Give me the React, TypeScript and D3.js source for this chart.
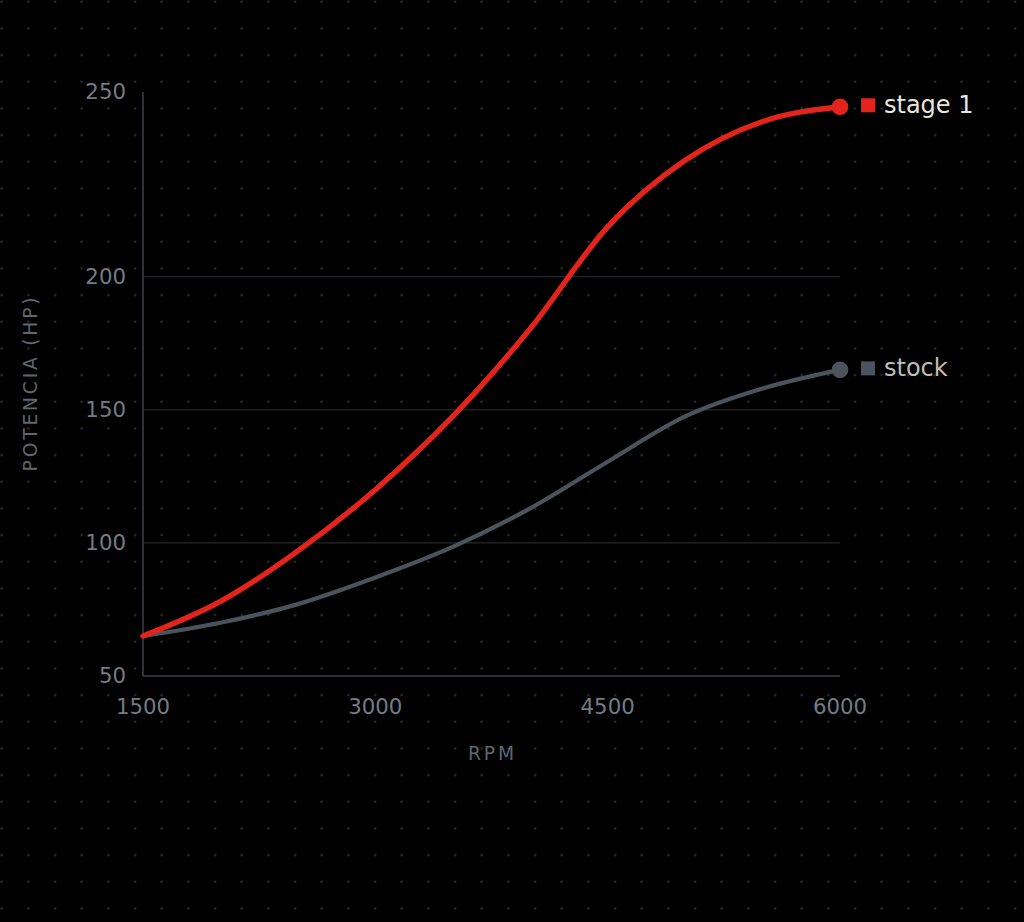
import React from 'react';
import * as d3 from 'd3';

// rpm samples every 500
const rpm = [1500, 2000, 2500, 3000, 3500, 4000, 4500, 5000, 5500, 6000];
const stage1Hp = [65, 78, 97, 120, 147.5, 180.5, 213.5, 231.5, 242, 246];
const stockHp = [65, 70, 77, 87, 98.5, 113, 130.5, 147.5, 158, 165];

const xTicks = [1500, 3000, 4500, 6000];
const yTicks = [50, 100, 150, 200, 250];
const gridTicks = [100, 150, 200];

const series = [
  { name: 'stage 1', values: stage1Hp, color: '#e3241d', width: 5.4, text: '#ece6da' },
  { name: 'stock', values: stockHp, color: '#4b535c', width: 4.2, text: '#bdbdb6' },
];

const W = 1024;
const H = 922;
const margin = { top: 92, right: 184, bottom: 246, left: 143 };
const innerW = W - margin.left - margin.right;
const innerH = H - margin.top - margin.bottom;

const FONT = '"DejaVu Sans", sans-serif';

export default function App() {
  const x = d3.scaleLinear().domain([1500, 6000]).range([0, innerW]);
  // axis is compressed below 200 hp, stretched above
  const y = d3.scaleLinear().domain([50, 200, 250]).range([innerH, innerH * 0.3163, 0]);

  const line = d3.line<number>()
    .x((_, i) => x(rpm[i]))
    .y(d => y(d))
    .curve(d3.curveMonotoneX);

  const last = rpm.length - 1;

  return (
    <>
      <style>{`body{margin:0;background:#000}`}</style>
      <svg width={W} height={H} style={{ display: 'block', background: '#000' }} fontFamily={FONT}>
        <defs>
          <pattern id="dots" width={80 / 3} height={80 / 3} patternUnits="userSpaceOnUse">
            <circle cx={5 / 3} cy={5 / 3} r={1.25} fill="#2e2f31" />
          </pattern>
        </defs>
        <rect width={W} height={H} fill="#000" />
        <rect width={W} height={H} fill="url(#dots)" />

        <g transform={`translate(${margin.left},${margin.top})`}>
          {gridTicks.map(t => (
            <line key={t} x1={0} x2={innerW} y1={y(t)} y2={y(t)} stroke="#25282c" strokeWidth={1.3} />
          ))}
          <line x1={0} x2={0} y1={0} y2={innerH} stroke="#3c4248" strokeWidth={1.5} />
          <line x1={0} x2={innerW} y1={innerH} y2={innerH} stroke="#3c4248" strokeWidth={1.5} />

          {yTicks.map(t => (
            <text key={t} x={-17} y={y(t)} dy="0.35em" textAnchor="end" fontSize={21.3} fill="#747b83">{t}</text>
          ))}
          {xTicks.map(t => (
            <text key={t} x={x(t)} y={innerH + 31} dy="0.35em" textAnchor="middle" fontSize={21.3} fill="#747b83">{t}</text>
          ))}

          <text x={innerW / 2 + 1} y={innerH + 77} dy="0.35em" textAnchor="middle" fontSize={18.7} letterSpacing={2.9} fill="#5f666e">RPM</text>
          <text transform={`translate(${-113},${innerH / 2 - 1}) rotate(-90)`} dy="0.35em" textAnchor="middle" fontSize={18.7} letterSpacing={2.8} fill="#5f666e">POTENCIA (HP)</text>

          {series.slice().reverse().map(s => (
            <path key={s.name} d={line(s.values) ?? ''} fill="none" stroke={s.color} strokeWidth={s.width} strokeLinecap="round" strokeLinejoin="round" />
          ))}

          {series.map(s => {
            const ex = x(rpm[last]);
            const ey = y(s.values[last]);
            return (
              <g key={s.name}>
                <circle cx={ex} cy={ey} r={8.3} fill={s.color} />
                <rect x={ex + 21} y={ey - 8.5} width={14} height={14} fill={s.color} />
                <text x={ex + 44} y={ey - 2} dy="0.35em" fontSize={24} fill={s.text}>{s.name}</text>
              </g>
            );
          })}
        </g>
      </svg>
    </>
  );
}
